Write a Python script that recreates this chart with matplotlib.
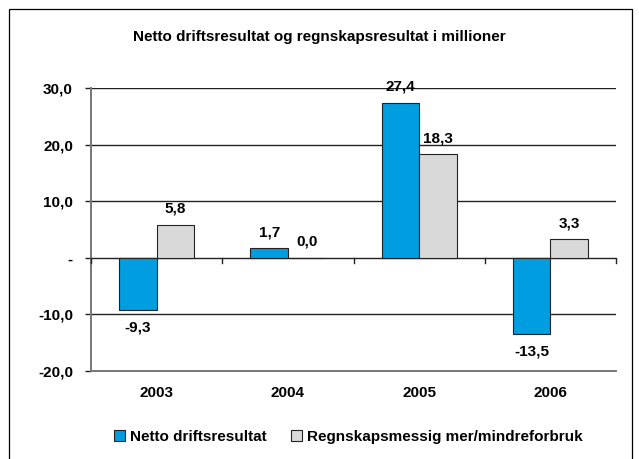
import matplotlib
matplotlib.use("Agg")
import matplotlib.pyplot as plt
from matplotlib.patches import Rectangle
import numpy as np

plt.rcParams['font.family'] = ['Liberation Sans', 'DejaVu Sans']

years = ["2003", "2004", "2005", "2006"]
netto = [-9.3, 1.7, 27.4, -13.5]
regnskap = [5.8, 0.0, 18.3, 3.3]
yticks = [-20, -10, 0, 10, 20, 30]
ytick_labels = ["-20,0", "-10,0", "-", "10,0", "20,0", "30,0"]
title = "Netto driftsresultat og regnskapsresultat i millioner"
series_names = ["Netto driftsresultat", "Regnskapsmessig mer/mindreforbruk"]

FS = 11
W, H = 639, 459
fig = plt.figure(figsize=(W/100, H/100), dpi=100)
ax = fig.add_axes([91/W, 1-371/H, (616-91)/W, (371-88)/H])

# frame around figure
fig.patches.append(Rectangle((9/W, -0.05), (632-9)/W, 1.05-9/H, transform=fig.transFigure,
                             fill=False, edgecolor='black', linewidth=0.9))

x = np.arange(len(years))
bw = 0.285
blue = '#009ee0'
grey = '#d9d9d9'
b1 = ax.bar(x - bw/2, netto, bw, color=blue, edgecolor='#222222', linewidth=0.8, zorder=3)
b2 = ax.bar(x + bw/2, regnskap, bw, color=grey, edgecolor='#222222', linewidth=0.8, zorder=3)

def fmt(v):
    return f"{v:.1f}".replace('.', ',')

for bars, vals in [(b1, netto), (b2, regnskap)]:
    for rect, v in zip(bars, vals):
        cx = rect.get_x() + rect.get_width()/2
        if v >= 0:
            ax.annotate(fmt(v), (cx, v), xytext=(0, 6.5), textcoords='offset points',
                        ha='center', va='bottom', fontsize=FS, fontweight='bold')
        else:
            ax.annotate(fmt(v), (cx, v), xytext=(0, -7.5), textcoords='offset points',
                        ha='center', va='top', fontsize=FS, fontweight='bold')

ax.set_xlim(-0.5, len(years) - 0.5)
ax.set_ylim(-20, 30)
ax.set_yticks(yticks)
ax.set_yticklabels(ytick_labels, fontsize=FS, fontweight='bold')
for yv in yticks:
    if yv == -20:
        continue
    ax.axhline(yv, color='#222222', linewidth=1.0, zorder=1)
ax.set_xticks(x)
ax.set_xticklabels(years, fontsize=FS, fontweight='bold')
ax.tick_params(axis='x', length=0, pad=11)
ax.tick_params(axis='y', length=4, width=1.0, color='#222222', pad=9)

# category boundary ticks on zero line
for b in np.arange(-0.5, len(years), 1.0):
    ax.plot([b, b], [0, -0.9], color='#222222', linewidth=1.0, zorder=4, clip_on=False)

for s in ['top', 'right']:
    ax.spines[s].set_visible(False)
ax.spines['left'].set_color('#777777')
ax.spines['left'].set_linewidth(1.4)
ax.spines['bottom'].set_color('#777777')
ax.spines['bottom'].set_linewidth(1.4)

fig.text(0.5, 1-37/H, title, ha='center', va='center', fontsize=FS, fontweight='bold')

leg = fig.legend([b1, b2], series_names, loc='center', bbox_to_anchor=(348/W, 1-437/H), ncol=2,
                 frameon=False, prop={'weight': 'bold', 'size': FS},
                 handlelength=0.75, handleheight=0.75, handletextpad=0.3, columnspacing=1.6)

fig.savefig("out.png", dpi=100)
